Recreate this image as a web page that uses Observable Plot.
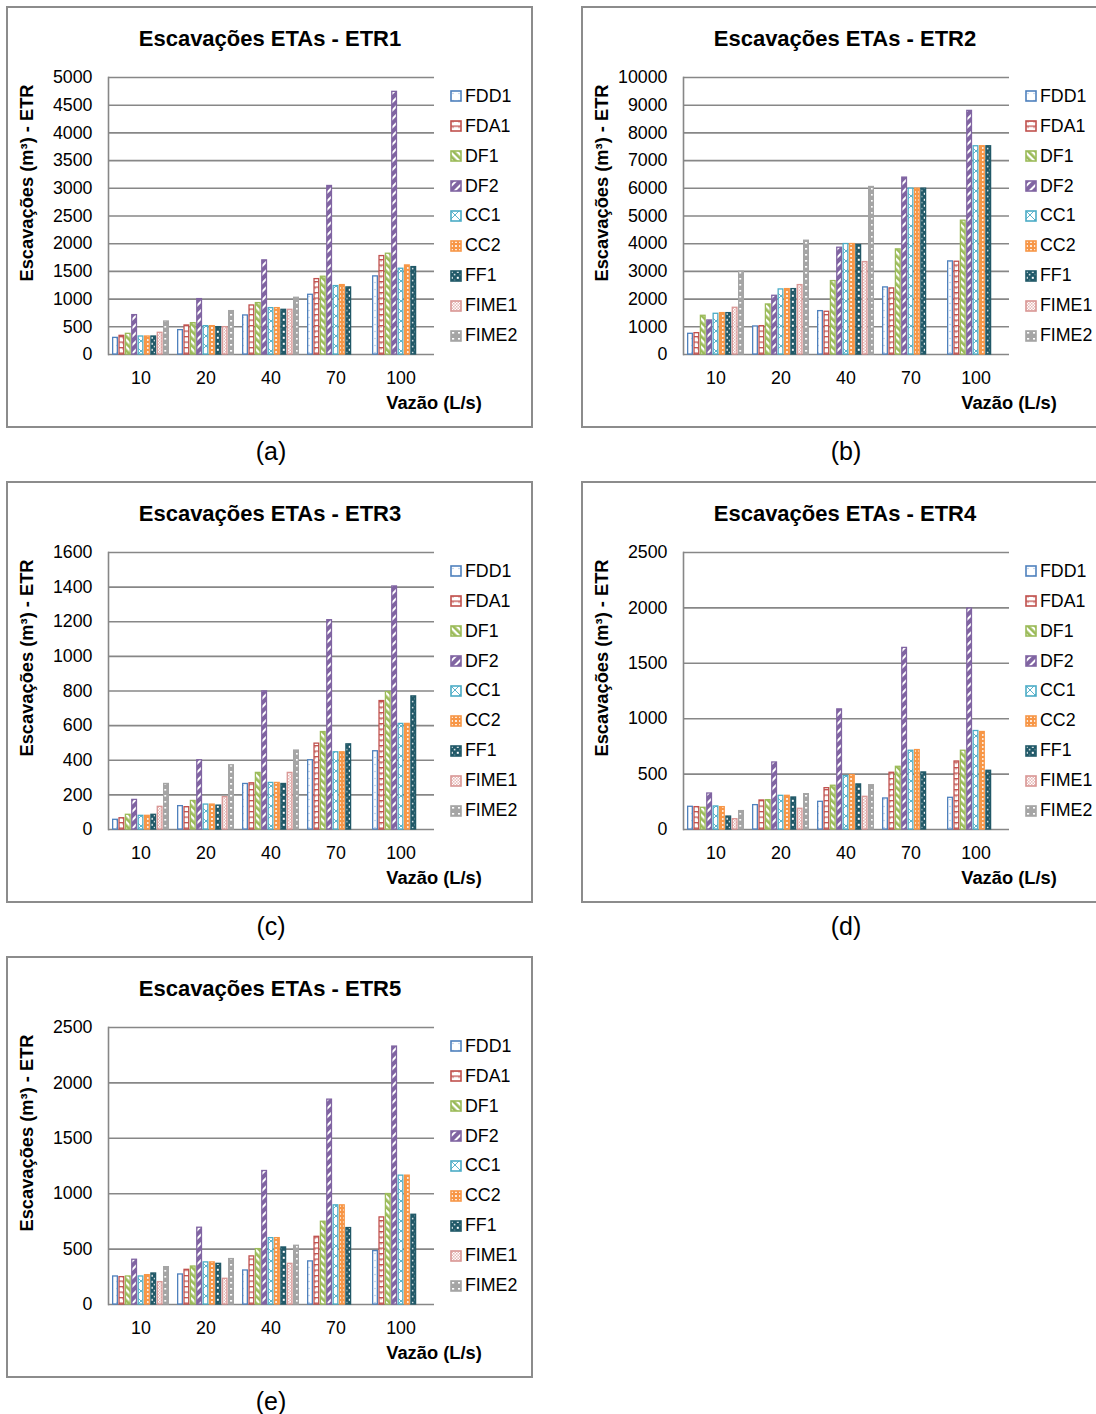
<!DOCTYPE html>
<html>
<head>
<meta charset="utf-8">
<script src="https://cdn.jsdelivr.net/npm/d3@7"></script>
<script src="https://cdn.jsdelivr.net/npm/@observablehq/plot@0.6"></script>
<style>
  html, body { margin:0; padding:0; background:#fff; overflow:hidden; width:1096px; height:1414px; }
  body { position:relative; font-family:"Liberation Sans", Arial, sans-serif; color:#000; }
  .panel { position:absolute; width:527px; height:422px; }
  .frame { position:absolute; left:0; top:0; width:527px; height:422px; box-sizing:border-box; border:2px solid #8c8c8c; }
  .chart { position:absolute; left:0; top:0; }
  .title { position:absolute; left:0; width:528px; top:20px; text-align:center; font-weight:bold; font-size:22px; white-space:nowrap; }
  .ytitle { position:absolute; left:21px; top:177px; transform:translate(-50%,-50%) rotate(-90deg); font-weight:bold; font-size:18.3px; white-space:nowrap; }
  .xtitle { position:absolute; left:428px; top:397px; transform:translate(-50%,-50%); font-weight:bold; font-size:18.3px; white-space:nowrap; }
  .legend { position:absolute; left:444px; top:0; }
  .legrow { position:absolute; left:0; height:20px; display:flex; align-items:center; white-space:nowrap; font-size:17.8px; }
  .legrow svg { margin-right:3px; }
  .caption { position:absolute; left:0; width:530px; top:431px; text-align:center; font-size:25px; }
</style>
</head>
<body>
<svg width="0" height="0" style="position:absolute">
  <defs>
    <pattern id="pat0" patternUnits="userSpaceOnUse" width="6" height="7">
      <rect width="6" height="7" fill="#fff"/><circle cx="3" cy="3.5" r="0.7" fill="#a7c0e0"/>
    </pattern>
    <pattern id="pat1" patternUnits="userSpaceOnUse" width="6" height="5.5">
      <rect width="6" height="5.5" fill="#fff"/><rect width="6" height="1.3" fill="#C0504D"/>
      <rect x="2.4" width="1.3" height="2.8" fill="#C0504D" opacity="0.55"/>
    </pattern>
    <pattern id="pat2" patternUnits="userSpaceOnUse" width="5" height="5" patternTransform="rotate(-45)">
      <rect width="5" height="5" fill="#fff"/><rect width="2.7" height="5" fill="#9BBB59"/>
    </pattern>
    <pattern id="pat3" patternUnits="userSpaceOnUse" width="6" height="6" patternTransform="rotate(45)">
      <rect width="6" height="6" fill="#8064A2"/><rect x="4" width="2" height="6" fill="#fff"/>
    </pattern>
    <pattern id="pat4" patternUnits="userSpaceOnUse" width="10" height="10">
      <rect width="10" height="10" fill="#fff"/><path d="M0,0L10,10M10,0L0,10" stroke="#4BACC6" stroke-width="0.9"/>
    </pattern>
    <pattern id="pat5" patternUnits="userSpaceOnUse" width="4" height="4">
      <rect width="4" height="4" fill="#F79646"/><circle cx="2" cy="2" r="1.1" fill="#fff"/>
    </pattern>
    <pattern id="pat6" patternUnits="userSpaceOnUse" width="6" height="6">
      <rect width="6" height="6" fill="#215968"/><rect x="0.8" y="0.8" width="2" height="2" fill="#fff"/>
      <rect x="3.8" y="3.8" width="1.6" height="1.6" fill="#fff" opacity="0.8"/>
    </pattern>
    <pattern id="pat7" patternUnits="userSpaceOnUse" width="3" height="3">
      <rect width="3" height="3" fill="#fff"/><rect width="1.5" height="1.5" fill="#E6B9B8"/>
      <rect x="1.5" y="1.5" width="1.5" height="1.5" fill="#E6B9B8"/>
    </pattern>
    <pattern id="pat8" patternUnits="userSpaceOnUse" width="6" height="6">
      <rect width="6" height="6" fill="#A5A5A5"/><rect x="2" y="2" width="2.2" height="1.6" fill="#fff"/>
    </pattern>
  </defs>
</svg>
<script>
// ---------- DATA ----------
const categories = ["10", "20", "40", "70", "100"];
const seriesNames = ["FDD1", "FDA1", "DF1", "DF2", "CC1", "CC2", "FF1", "FIME1", "FIME2"];
const seriesColors = ["#4F81BD", "#C0504D", "#9BBB59", "#8064A2", "#4BACC6", "#F79646", "#215968", "#D99694", "#A5A5A5"];

// rows = series (in seriesNames order), columns = categories; null = no bar
const etr1 = [
  [300, 440, 705, 1078, 1410],
  [337, 524, 885, 1361, 1777],
  [373, 566, 928, 1404, 1819],
  [711, 1000, 1699, 3042, 4741],
  [325, 512, 837, 1235, 1548],
  [325, 512, 837, 1253, 1608],
  [325, 494, 807, 1211, 1578],
  [392, 494, 807, null, null],
  [596, 783, 1024, null, null]
];
const etr2 = [
  [747, 1012, 1566, 2422, 3361],
  [771, 1024, 1542, 2386, 3349],
  [1398, 1807, 2651, 3795, 4831],
  [1229, 2120, 3855, 6386, 8795],
  [1470, 2349, 3988, 5988, 7518],
  [1494, 2361, 3988, 5988, 7518],
  [1494, 2361, 3950, 5988, 7518],
  [1687, 2506, 3337, null, null],
  [2988, 4108, 6048, null, null]
];
const etr3 = [
  [56, 135, 263, 400, 452],
  [65, 129, 267, 496, 742],
  [85, 165, 327, 563, 794],
  [171, 400, 798, 1209, 1404],
  [79, 144, 269, 446, 610],
  [79, 144, 269, 446, 610],
  [85, 138, 263, 492, 769],
  [131, 187, 327, null, null],
  [263, 371, 456, null, null]
];
const etr4 = [
  [205, 220, 250, 280, 286],
  [202, 262, 373, 512, 614],
  [196, 265, 395, 566, 711],
  [325, 605, 1084, 1639, 1994],
  [208, 304, 482, 711, 889],
  [202, 304, 491, 717, 880],
  [117, 289, 407, 515, 530],
  [93, 187, 295, null, null],
  [166, 319, 400, null, null]
];
const etr5 = [
  [253, 271, 307, 389, 482],
  [247, 313, 434, 611, 786],
  [253, 343, 500, 747, 997],
  [404, 693, 1205, 1849, 2328],
  [253, 380, 599, 895, 1163],
  [265, 380, 599, 895, 1163],
  [280, 367, 515, 690, 810],
  [202, 232, 367, null, null],
  [337, 410, 530, null, null]
];

const ticks1 = [0, 500, 1000, 1500, 2000, 2500, 3000, 3500, 4000, 4500, 5000];
const ticks2 = [0, 1000, 2000, 3000, 4000, 5000, 6000, 7000, 8000, 9000, 10000];
const ticks3 = [0, 200, 400, 600, 800, 1000, 1200, 1400, 1600];
const ticks4 = [0, 500, 1000, 1500, 2000, 2500];
const ticks5 = [0, 500, 1000, 1500, 2000, 2500];

const titles = ["Escavações ETAs - ETR1", "Escavações ETAs - ETR2", "Escavações ETAs - ETR3", "Escavações ETAs - ETR4", "Escavações ETAs - ETR5"];
const captions = ["(a)", "(b)", "(c)", "(d)", "(e)"];
const yTitle = "Escavações (m³) - ETR";
const xTitle = "Vazão (L/s)";

// ---------- DRAW ----------
const FONT = '"Liberation Sans", Arial, sans-serif';

function drawPanel(values, ticks, title, caption, left, top) {
  const panel = document.createElement("div");
  panel.className = "panel";
  panel.style.left = left + "px";
  panel.style.top = top + "px";
  document.body.appendChild(panel);

  const frame = document.createElement("div");
  frame.className = "frame";
  panel.appendChild(frame);

  const rows = [];
  seriesNames.forEach((s, i) => categories.forEach((c, j) => {
    const v = values[i][j];
    if (v != null) rows.push({cat: c, series: s, value: v});
  }));

  const W = 440, H = 420, mL = 102, mR = 12, mT = 71, mB = 72, pIn = 0.12, pOut = 0.06;
  const step = (W - mL - mR) / (categories.length - pIn + 2 * pOut);
  const slot = step * (1 - pIn) / seriesNames.length;
  const n = seriesNames.length;

  const bars = seriesNames.map((s, i) => Plot.barY(rows.filter(d => d.series === s), {
    x: "cat", y: "value",
    fill: `url(#pat${i})`, stroke: seriesColors[i], strokeWidth: 1.3,
    insetLeft: i * slot + 0.65, insetRight: (n - 1 - i) * slot + 0.65
  }));

  const chart = Plot.plot({
    width: W, height: H,
    marginLeft: mL, marginRight: mR, marginTop: mT, marginBottom: mB,
    style: {fontFamily: FONT, fontSize: "17.8px", color: "#000", background: "transparent", overflow: "visible"},
    x: {domain: categories, paddingInner: pIn, paddingOuter: pOut, label: null},
    y: {domain: [0, ticks[ticks.length - 1]], label: null},
    marks: [
      Plot.ruleY(ticks, {stroke: "#878787", strokeWidth: 1.6}),
      Plot.frame({anchor: "left", stroke: "#878787", strokeWidth: 1.6}),
      ...bars,
      Plot.axisY(ticks, {tickSize: 0, tickPadding: 16, label: null, tickFormat: d => String(d)}),
      Plot.axisX({tickSize: 0, tickPadding: 17, label: null})
    ]
  });
  chart.classList.add("chart");
  panel.appendChild(chart);

  const t = document.createElement("div");
  t.className = "title"; t.textContent = title; panel.appendChild(t);
  const yt = document.createElement("div");
  yt.className = "ytitle"; yt.textContent = yTitle; panel.appendChild(yt);
  const xt = document.createElement("div");
  xt.className = "xtitle"; xt.textContent = xTitle; panel.appendChild(xt);

  const leg = document.createElement("div");
  leg.className = "legend";
  seriesNames.forEach((s, i) => {
    const r = document.createElement("div");
    r.className = "legrow";
    r.style.top = (90.3 + i * 29.9 - 10) + "px";
    r.innerHTML = `<svg width="12" height="12"><rect x="1" y="1" width="10" height="10" fill="url(#pat${i})" stroke="${seriesColors[i]}" stroke-width="1.6"/></svg><span>${s}</span>`;
    leg.appendChild(r);
  });
  panel.appendChild(leg);

  const cap = document.createElement("div");
  cap.className = "caption"; cap.textContent = caption; panel.appendChild(cap);
}

drawPanel(etr1, ticks1, titles[0], captions[0], 6, 6);
drawPanel(etr2, ticks2, titles[1], captions[1], 581, 6);
drawPanel(etr3, ticks3, titles[2], captions[2], 6, 481);
drawPanel(etr4, ticks4, titles[3], captions[3], 581, 481);
drawPanel(etr5, ticks5, titles[4], captions[4], 6, 956);
</script>
</body>
</html>
